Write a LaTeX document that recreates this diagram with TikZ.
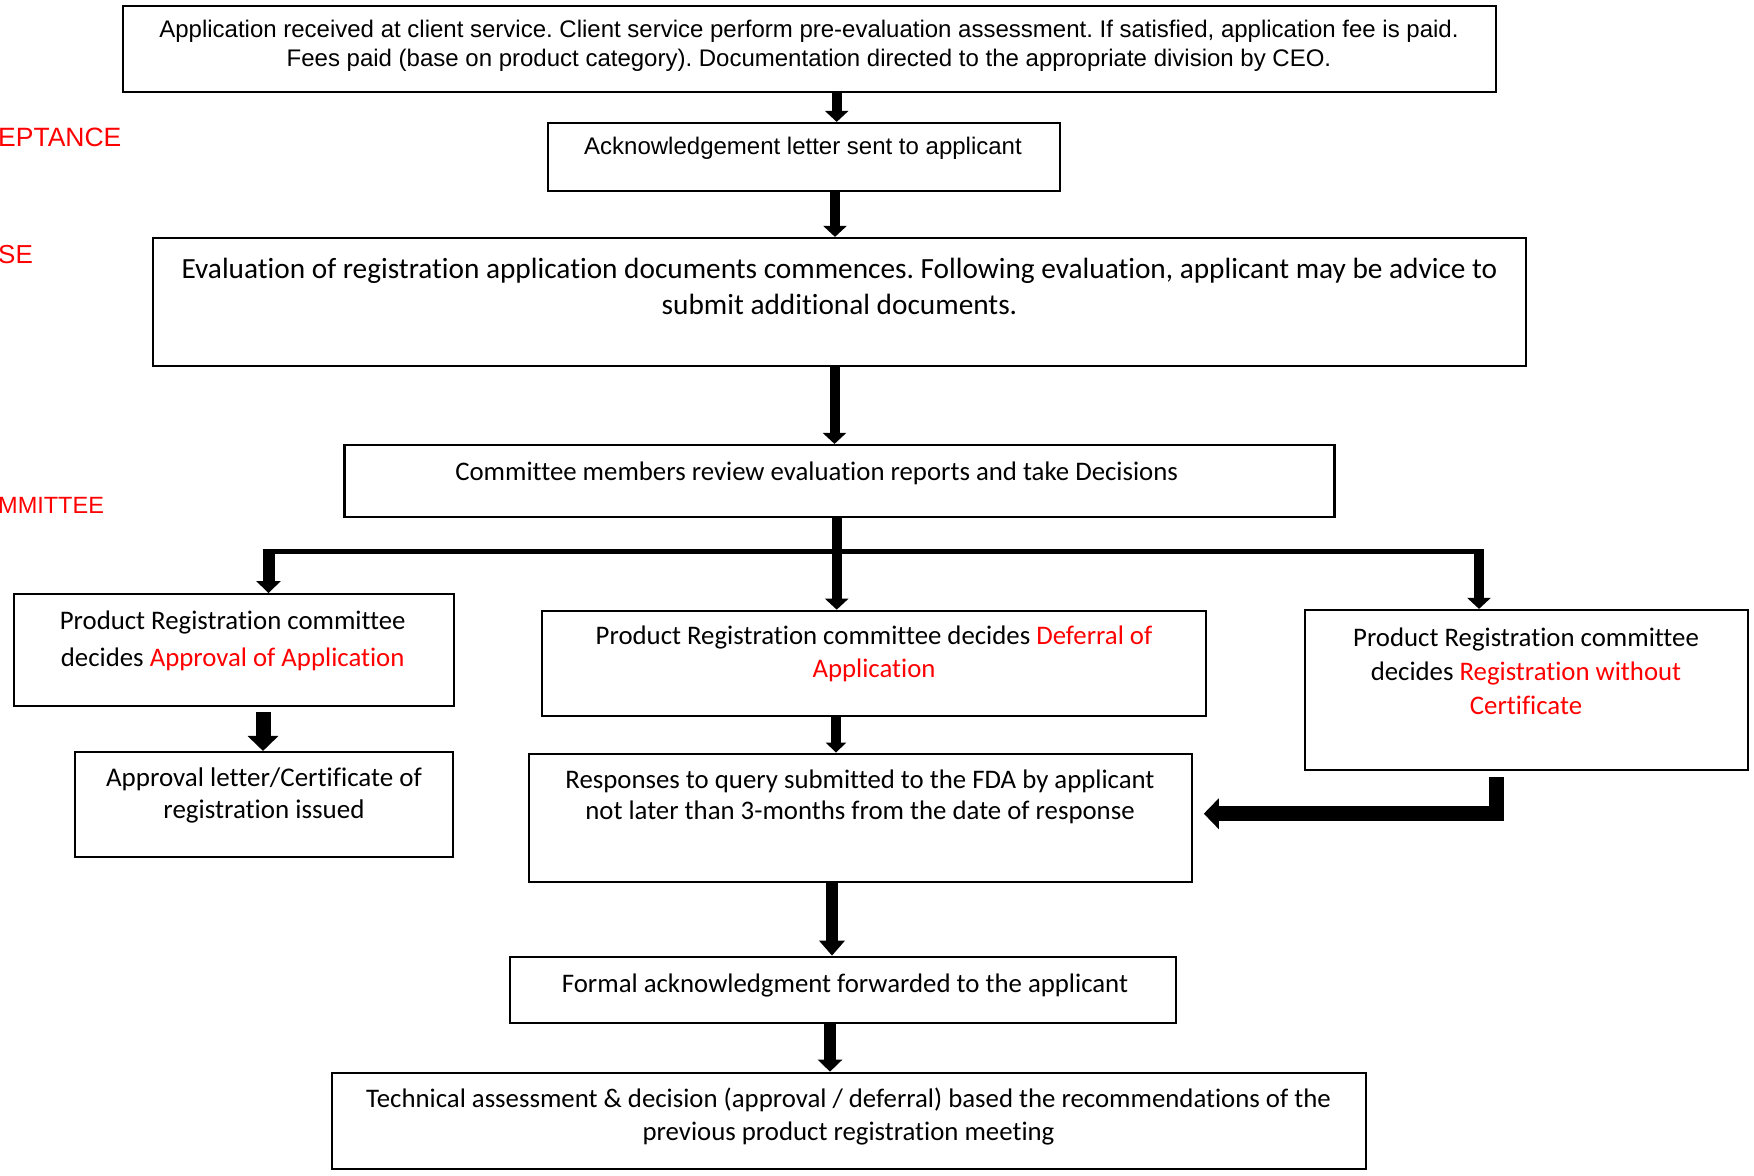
\documentclass[tikz,border=0pt]{standalone}
\usepackage{fontspec}
\setmainfont{Carlito}[Ligatures=NoCommon]
\newfontfamily\arialf{Liberation Sans}
\usetikzlibrary{arrows.meta}
\newcommand{\rd}[1]{\textcolor{red}{#1}}
\frenchspacing
\begin{document}
\begin{tikzpicture}[x=1bp,y=-1bp,
  box/.style={draw=black, line width=2.2bp, inner sep=0pt},
  txt/.style={inner sep=0pt, align=center, text=black},
  phase/.style={inner sep=0pt, anchor=west, text=red},
  arrA/.style={line width=10bp, -{Triangle[length=11bp, width=23bp]}},
  arrB/.style={line width=12bp, -{Triangle[length=12bp, width=24bp]}},
  arrC/.style={line width=15bp, -{Triangle[length=15bp, width=30bp]}},
  arrD/.style={line width=9.5bp, -{Triangle[length=10bp, width=20bp]}},
  arrE/.style={line width=12.5bp, -{Triangle[length=15bp, width=25bp]}},
  bar/.style={line width=5bp},
  elb/.style={line width=14.5bp, line join=miter, -{Triangle[length=15bp, width=30bp]}}
]
\useasboundingbox (0,0) rectangle (1754,1175);
\fill[white] (0,0) rectangle (1754,1175);

% boxes
\node[box, minimum width=1373bp, minimum height=86bp] (b1) at (809.5,48.6) {};
\node[box, minimum width=512bp, minimum height=68bp] (b2) at (804,157) {};
\node[box, minimum width=1373bp, minimum height=128bp] (b3) at (839.5,302) {};
\node[box, minimum width=990bp, minimum height=72bp] (b4) at (839.5,481) {};
\node[box, minimum width=440bp, minimum height=111.7bp] (b5) at (234,650) {};
\node[box, minimum width=664bp, minimum height=105.3bp] (b6) at (874,663.4) {};
\node[box, minimum width=443bp, minimum height=160bp] (b7) at (1526.5,690) {};
\node[box, minimum width=377.7bp, minimum height=105.3bp] (b8) at (263.8,804.7) {};
\node[box, minimum width=663bp, minimum height=128bp] (b9) at (860.2,817.7) {};
\node[box, minimum width=666bp, minimum height=66bp] (b10) at (843,989.7) {};
\node[box, minimum width=1034bp, minimum height=96.5bp] (b11) at (848.8,1121) {};

% texts
\node[txt, font=\arialf\fontsize{24bp}{29bp}\selectfont] (t1) at (809,45.5) {Application received at client service. Client service perform pre-evaluation assessment. If satisfied, application fee is paid.\\Fees paid (base on product category). Documentation directed to the appropriate division by CEO.};
\node[txt, font=\arialf\fontsize{24bp}{29bp}\selectfont] (t2) at (803,148) {Acknowledgement letter sent to applicant};
\node[txt, font=\fontsize{29.3bp}{36bp}\selectfont] (t3) at (839.5,286) {Evaluation of registration application documents commences. Following evaluation, applicant may be advice to\\submit additional documents.};
\node[txt, font=\fontsize{26.8bp}{33bp}\selectfont] (t4) at (816.6,473) {Committee members review evaluation reports and take Decisions};
\node[txt, font=\fontsize{26.8bp}{37bp}\selectfont] (t5) at (232.7,640.5) {Product Registration committee\\decides \rd{Approval of Application}};
\node[txt, font=\fontsize{26.8bp}{32.4bp}\selectfont] (t6) at (874,654) {Product Registration committee decides \rd{Deferral of}\\\rd{Application}};
\node[txt, font=\fontsize{26.8bp}{34bp}\selectfont] (t7) at (1526,671) {Product Registration committee\\decides \rd{Registration without}\\\rd{Certificate}};
\node[txt, font=\fontsize{27bp}{32.5bp}\selectfont] (t8) at (264,795.5) {Approval letter/Certificate of\\registration issued};
\node[txt, font=\fontsize{26.8bp}{31bp}\selectfont] (t9) at (860,797) {Responses to query submitted to the FDA by applicant\\not later than 3-months from the date of response};
\node[txt, font=\fontsize{26.8bp}{31bp}\selectfont] (t10) at (845,985) {Formal acknowledgment forwarded to the applicant};
\node[txt, font=\fontsize{26.8bp}{32.5bp}\selectfont] (t11) at (848.5,1116.5) {Technical assessment \& decision (approval / deferral) based the recommendations of the\\previous product registration meeting};

% phase labels (cut at the left edge)
\node[phase, font=\arialf\fontsize{26.5bp}{30bp}\selectfont] (p1) at (-2,137.6) {EPTANCE};
\node[phase, font=\arialf\fontsize{26bp}{30bp}\selectfont] (p2) at (-2,255) {SE};
\node[phase, font=\arialf\fontsize{23.5bp}{28bp}\selectfont] (p3) at (-2,505.6) {MMITTEE};

% helper coordinates
\coordinate (x1) at (836.7,0);
\coordinate (x2) at (835,0);
\coordinate (x3) at (834.5,0);
\coordinate (xt) at (836.7,0);
\coordinate (xl) at (268.5,0);
\coordinate (xr) at (1479,0);
\coordinate (yb) at (0,551.5);
\coordinate (bl) at (262.5,551.5);
\coordinate (br) at (1484,551.5);
\coordinate (x5) at (263,0);
\coordinate (x6) at (836,0);
\coordinate (xe) at (1496.5,0);
\coordinate (t9e) at ([yshift=4bp]b9.east);
\coordinate (x8) at (832,0);
\coordinate (x9) at (830,0);

% connectors
\draw[arrA] (b1.south -| x1) -- (b2.north -| x1);
\draw[arrA] (b2.south -| x2) -- (b3.north -| x2);
\draw[arrA] (b3.south -| x3) -- (b4.north -| x3);
\draw[bar] (bl) -- (br);
\draw[arrA] (b4.south -| xt) -- (b6.north -| xt);
\draw[arrB] (xl |- yb) -- (b5.north -| xl);
\draw[arrA] (xr |- yb) -- (b7.north -| xr);
\draw[arrC, shorten <=5bp] (b5.south -| x5) -- (b8.north -| x5);
\draw[arrD] (b6.south -| x6) -- (b9.north -| x6);
\draw[elb, shorten >=11bp] (b7.south -| xe) ++(0,6) |- (t9e);
\draw[arrE] (b9.south -| x8) -- (b10.north -| x8);
\draw[arrB] (b10.south -| x9) -- (b11.north -| x9);
\end{tikzpicture}
\end{document}
